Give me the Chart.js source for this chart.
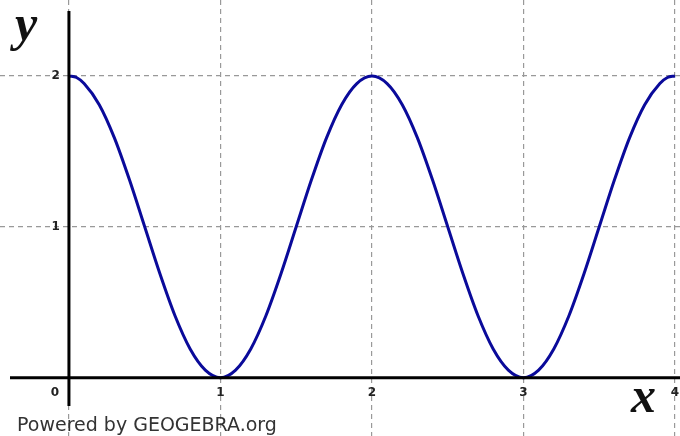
<!DOCTYPE html>
<html>
<head>
<meta charset="utf-8">
<script src="https://cdn.jsdelivr.net/npm/chart.js@4/dist/chart.umd.min.js"></script>
<style>
  body { margin: 0; background: #fff; }
  #wrap { width: 680px; height: 436px; position: relative; }
</style>
</head>
<body>
<div id="wrap"><canvas id="chart"></canvas></div>
<script>
// curve points
const xValues = [0, 0.05, 0.1, 0.2, 0.3, 0.4, 0.5, 0.6, 0.7, 0.8, 0.9,
                 1, 1.1, 1.2, 1.3, 1.4, 1.5, 1.6, 1.7, 1.8, 1.9,
                 2, 2.1, 2.2, 2.3, 2.4, 2.5, 2.6, 2.7, 2.8, 2.9,
                 3, 3.1, 3.2, 3.3, 3.4, 3.5, 3.6, 3.7, 3.8, 3.9, 3.95, 4];
const yValues = [2.00, 1.99, 1.95, 1.81, 1.59, 1.31, 1.00, 0.69, 0.41, 0.19, 0.05,
                 0.00, 0.05, 0.19, 0.41, 0.69, 1.00, 1.31, 1.59, 1.81, 1.95,
                 2.00, 1.95, 1.81, 1.59, 1.31, 1.00, 0.69, 0.41, 0.19, 0.05,
                 0.00, 0.05, 0.19, 0.41, 0.69, 1.00, 1.31, 1.59, 1.81, 1.95, 1.99, 2.00];
const xTicks = [0, 1, 2, 3, 4];
const yTicks = [1, 2];

const points = xValues.map((x, i) => ({ x: x, y: yValues[i] }));

// axes, tick labels and the x / y letters
const axesPlugin = {
    id: 'axes',
    afterDatasetsDraw(chart) {
        const ctx = chart.ctx;
        const sx = chart.scales.x, sy = chart.scales.y;
        const x0 = sx.getPixelForValue(0), y0 = sy.getPixelForValue(0);
        ctx.save();
        ctx.strokeStyle = '#000';
        ctx.lineWidth = 3;
        ctx.beginPath();
        ctx.moveTo(10, y0);
        ctx.lineTo(680, y0);
        ctx.moveTo(x0, 11);
        ctx.lineTo(x0, 406);
        ctx.stroke();

        ctx.fillStyle = '#222';
        ctx.font = 'bold 12px "DejaVu Sans", sans-serif';
        ctx.textBaseline = 'middle';
        ctx.textAlign = 'right';
        yTicks.forEach(v => ctx.fillText(String(v), x0 - 9, sy.getPixelForValue(v)));
        ctx.textAlign = 'center';
        xTicks.forEach(v => {
            const px = v === 0 ? x0 - 14 : sx.getPixelForValue(v);
            ctx.fillText(String(v), px, y0 + 15);
        });

        ctx.fillStyle = '#111';
        ctx.font = 'italic bold 50px "Liberation Serif", serif';
        ctx.textAlign = 'left';
        ctx.textBaseline = 'alphabetic';
        ctx.fillText('y', 15, 40);
        ctx.fillText('x', 631, 412);

        ctx.font = '19px "DejaVu Sans", sans-serif';
        ctx.fillStyle = '#333';
        ctx.fillText('Powered by GEOGEBRA.org', 17, 431);
        ctx.restore();
    }
};

new Chart(document.getElementById('chart'), {
    type: 'line',
    data: {
        datasets: [{
            data: points,
            borderColor: '#0a0a9a',
            borderWidth: 3,
            pointRadius: 0,
            cubicInterpolationMode: 'monotone',
            fill: false
        }]
    },
    options: {
        responsive: true,
        maintainAspectRatio: false,
        animation: false,
        layout: { padding: 0 },
        plugins: { legend: { display: false }, tooltip: { enabled: false } },
        scales: {
            x: {
                type: 'linear',
                min: -0.455,
                max: 4.033,
                afterBuildTicks: s => { s.ticks = xTicks.map(v => ({ value: v })); },
                ticks: { display: false },
                border: { display: false, dash: [5, 4] },
                grid: { color: '#999', lineWidth: 1.2, drawTicks: false }
            },
            y: {
                min: -0.387,
                max: 2.504,
                afterBuildTicks: s => { s.ticks = yTicks.map(v => ({ value: v })); },
                ticks: { display: false },
                border: { display: false, dash: [5, 4] },
                grid: { color: '#999', lineWidth: 1.2, drawTicks: false }
            }
        }
    },
    plugins: [axesPlugin]
});
</script>
</body>
</html>
